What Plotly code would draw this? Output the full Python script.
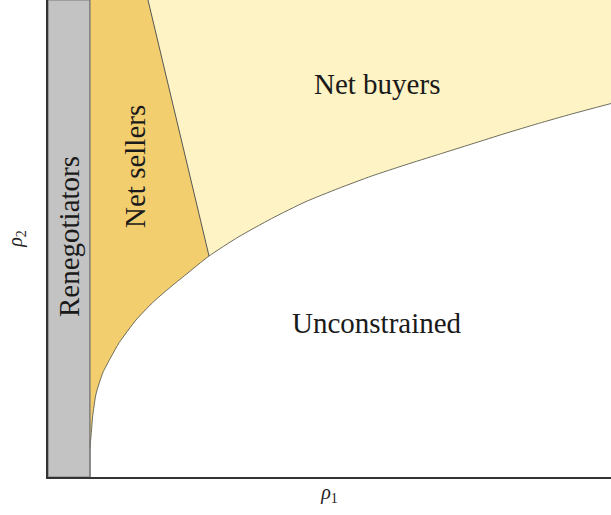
import plotly.graph_objects as go

# Boundary curve between constrained / unconstrained (rho1, rho2)
curve_x = [0.0746, 0.0773, 0.0794, 0.0853, 0.0972, 0.1119, 0.1266, 0.1563,
           0.1860, 0.2155, 0.2451, 0.2860, 0.3380, 0.3973, 0.4565, 0.5156,
           0.5750, 0.6341, 0.6933, 0.7526, 0.8117, 0.8709, 0.9302, 1.0]
curve_y = [0.061, 0.0985, 0.1279, 0.1740, 0.2180, 0.2516, 0.2820, 0.3291,
           0.3658, 0.3962, 0.4245, 0.4633, 0.5031, 0.5419, 0.5765, 0.6048,
           0.6310, 0.6541, 0.6761, 0.6981, 0.7201, 0.7411, 0.7610, 0.7830]
# Renegotiators band
reneg_x = [0.0, 0.0746]
# Sellers / buyers dividing line (bottom point on curve, top point)
split_x = [0.2860, 0.1776]
split_y = [0.4633, 1.0]
# Region labels
labels = ["Renegotiators", "Net sellers", "Net buyers", "Unconstrained"]

GRAY = "#C3C3C3"
SELL = "#F3CE6F"
BUY = "#FEF3C4"
EDGE = "#6E6E60"

fig = go.Figure()

# gray band
fig.add_trace(go.Scatter(
    x=[reneg_x[0], reneg_x[1], reneg_x[1], reneg_x[0], reneg_x[0]],
    y=[0, 0, 1, 1, 0], fill="toself", fillcolor=GRAY, mode="lines",
    line=dict(color="#7A7A7A", width=1.2), hoverinfo="skip", showlegend=False))

# net sellers polygon
sx = [x for x in curve_x if x <= split_x[0]]
sy = [y for x, y in zip(curve_x, curve_y) if x <= split_x[0]]
fig.add_trace(go.Scatter(
    x=sx + [split_x[1], reneg_x[1], sx[0]],
    y=sy + [split_y[1], 1, sy[0]],
    fill="toself", fillcolor=SELL, mode="lines",
    line=dict(width=0), hoverinfo="skip", showlegend=False))

# net buyers polygon
bx = [x for x in curve_x if x >= split_x[0]]
by = [y for x, y in zip(curve_x, curve_y) if x >= split_x[0]]
fig.add_trace(go.Scatter(
    x=bx + [1, split_x[1], bx[0]],
    y=by + [1, split_y[1], by[0]],
    fill="toself", fillcolor=BUY, mode="lines",
    line=dict(width=0), hoverinfo="skip", showlegend=False))

# curve line
fig.add_trace(go.Scatter(x=curve_x, y=curve_y, mode="lines",
                         line=dict(color=EDGE, width=1, shape="spline", smoothing=0.6),
                         hoverinfo="skip", showlegend=False))
# split line
fig.add_trace(go.Scatter(x=split_x, y=split_y, mode="lines",
                         line=dict(color="#555550", width=1),
                         hoverinfo="skip", showlegend=False))
# band right edge
fig.add_trace(go.Scatter(x=[reneg_x[1], reneg_x[1]], y=[0, 1], mode="lines",
                         line=dict(color="#7A7A7A", width=1.2),
                         hoverinfo="skip", showlegend=False))

FONT = "Liberation Serif"
ann = [
    (labels[0], 0.0373, 0.503, -90),
    (labels[1], 0.1545, 0.652, -90),
    (labels[2], 0.584, 0.824, 0),
    (labels[3], 0.584, 0.323, 0),
]
for t, x, y, a in ann:
    fig.add_annotation(x=x, y=y, text=t, textangle=a, showarrow=False,
                       font=dict(family=FONT, size=29, color="#1a1a1a"))

fig.update_layout(
    width=611, height=515,
    margin=dict(l=48, r=0, t=0, b=38),
    paper_bgcolor="white", plot_bgcolor="white",
    xaxis=dict(range=[0, 1], showgrid=False, zeroline=False, showticklabels=False,
               ticks="", showline=True, linecolor="#333333", linewidth=1.5,
               title=dict(text="<i>ρ</i><sub>1</sub>", standoff=7,
                          font=dict(family=FONT, size=20, color="#222"))),
    yaxis=dict(range=[0, 1], showgrid=False, zeroline=False, showticklabels=False,
               ticks="", showline=True, linecolor="#333333", linewidth=1.5,
               title=dict(text="<i>ρ</i><sub>2</sub>", standoff=18,
                          font=dict(family=FONT, size=20, color="#222"))),
)

post = ("document.body.style.margin='0';"
        "document.body.style.overflow='hidden';"
        "var gd=document.getElementById('{plot_id}');"
        "Plotly.relayout(gd,{width:611,height:515});")
fig.write_html("out.html", post_script=post, config={"displayModeBar": False})
